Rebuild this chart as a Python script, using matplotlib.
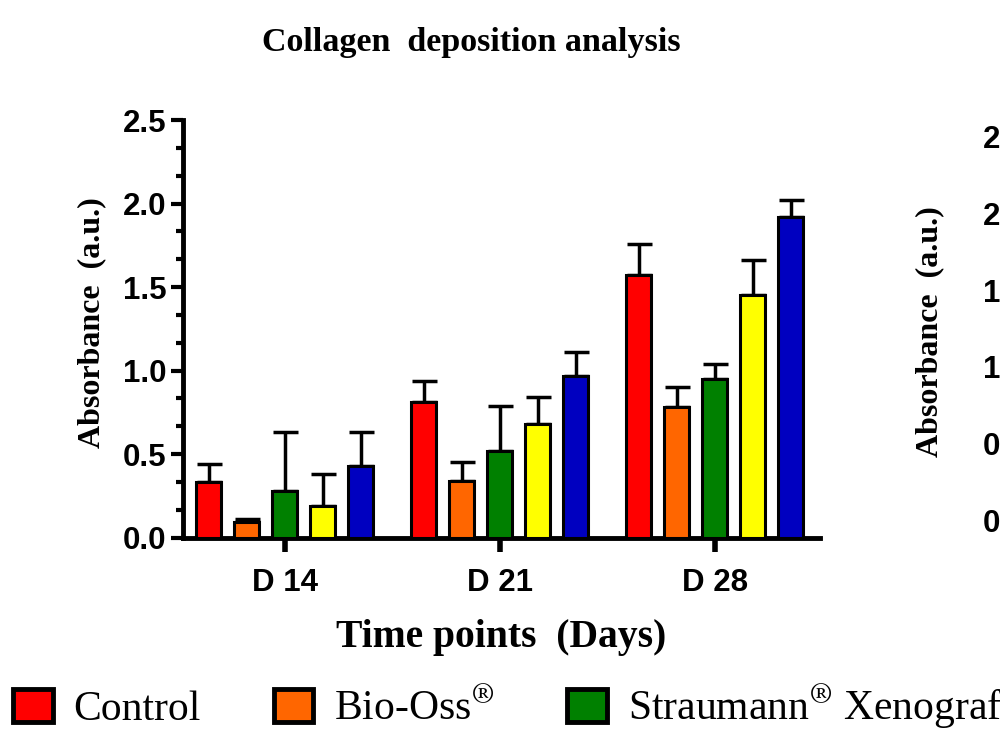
import matplotlib
matplotlib.use('Agg')
import matplotlib.pyplot as plt
import numpy as np
from matplotlib.ticker import AutoMinorLocator, FormatStrFormatter
from matplotlib.patches import Rectangle

plt.rcParams['mathtext.fontset'] = 'stix'

# ---------------- data ----------------
days = ['D 14', 'D 21', 'D 28']
groups = ['Control', 'Bio-Oss$^{\\circledR}$', 'Straumann$^{\\circledR}$ Xenograft',
          'Group 4', 'Group 5']
colors = ['#ff0000', '#ff6600', '#008000', '#ffff00', '#0000c0']

control = [0.33, 0.81, 1.57]
control_err = [0.11, 0.13, 0.19]
biooss = [0.09, 0.34, 0.78]
biooss_err = [0.02, 0.11, 0.12]
straumann = [0.28, 0.52, 0.95]
straumann_err = [0.35, 0.27, 0.09]
group4 = [0.19, 0.68, 1.45]
group4_err = [0.19, 0.16, 0.21]
group5 = [0.43, 0.97, 1.92]
group5_err = [0.20, 0.14, 0.10]

yticks = [0.0, 0.5, 1.0, 1.5, 2.0, 2.5]

series = [control, biooss, straumann, group4, group5]
errors = [control_err, biooss_err, straumann_err, group4_err, group5_err]

# ---------------- figure ----------------
fig = plt.figure(figsize=(10, 7.5), dpi=100)
ax = fig.add_axes([0.183, 0.2833, 0.637, 0.5567])

serif = 'Liberation Serif'
sans = 'Liberation Sans'
tick_fs = 22.5

x = np.arange(len(days))
step = 0.177
width = 0.116
for i, (vals, errs, col) in enumerate(zip(series, errors, colors)):
    pos = x + (i - 2) * step
    ax.errorbar(pos, vals, yerr=[np.zeros(len(errs)), errs], fmt='none',
                ecolor='black', elinewidth=2.5, capsize=9, capthick=2.5, zorder=2)
    ax.bar(pos, vals, width=width, color=col, edgecolor='black', linewidth=2.2,
           label=groups[i], zorder=3)

ax.set_xlim(-0.474, 2.49)
ax.set_ylim(0, 2.5)
ax.set_yticks(yticks)
ax.yaxis.set_major_formatter(FormatStrFormatter('%.1f'))
ax.yaxis.set_minor_locator(AutoMinorLocator(3))
ax.set_xticks(x)
ax.set_xticklabels(days)

for s in ['top', 'right']:
    ax.spines[s].set_visible(False)
for s in ['left', 'bottom']:
    ax.spines[s].set_linewidth(3.5)

ax.tick_params(axis='y', which='major', length=9, width=3, direction='out', pad=3)
ax.tick_params(axis='y', which='minor', length=5, width=3, direction='out')
ax.tick_params(axis='x', which='major', length=10, width=4, direction='out', pad=12)
for lab in ax.get_yticklabels() + ax.get_xticklabels():
    lab.set_fontfamily(sans)
    lab.set_fontweight('bold')
    lab.set_fontsize(tick_fs)

fig.text(0.471, 1 - 42 / 750, 'Collagen  deposition analysis', family=serif,
         weight='bold', fontsize=24.5, ha='center', va='center')
fig.text(0.092, 1 - 323 / 750, 'Absorbance  (a.u.)', family=serif, weight='bold',
         fontsize=23, rotation=90, ha='center', va='center')
fig.text(0.501, 1 - 638 / 750, 'Time points  (Days)', family=serif, weight='bold',
         fontsize=28.5, ha='center', va='center')

# ---------------- partial second panel on the right ----------------
ax2 = fig.add_axes([1.043, 1 - 520 / 750, 0.3, (520 - 137) / 750])
ax2.set_ylim(0, 2.5)
ax2.set_yticks(yticks)
ax2.yaxis.set_major_formatter(FormatStrFormatter('%.1f'))
ax2.set_xticks([])
for s in ['top', 'right', 'bottom']:
    ax2.spines[s].set_visible(False)
ax2.tick_params(axis='y', length=9, width=3, pad=3)
for lab in ax2.get_yticklabels():
    lab.set_fontfamily(sans)
    lab.set_fontweight('bold')
    lab.set_fontsize(tick_fs)
fig.text(0.93, 1 - 332 / 750, 'Absorbance  (a.u.)', family=serif, weight='bold',
         fontsize=23, rotation=90, ha='center', va='center')

# ---------------- legend ----------------
handles = [Rectangle((0, 0), 1, 1, facecolor=c, edgecolor='black', linewidth=3.5)
           for c in colors]
fig.legend(handles, groups, ncol=5, loc='center left',
           bbox_to_anchor=(0.013, 1 - 707 / 750), frameon=False,
           prop={'family': serif, 'size': 30}, handlelength=0.95,
           handleheight=0.85, handletextpad=0.5, columnspacing=1.75,
           borderaxespad=0, borderpad=0)

fig.savefig('out.png', dpi=100)
